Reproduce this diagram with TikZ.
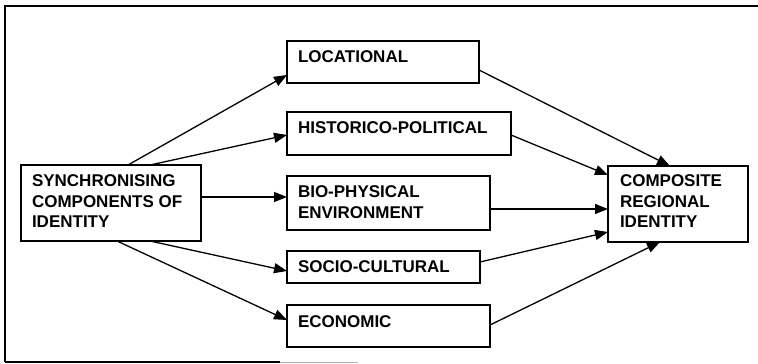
\documentclass[tikz,border=0pt]{standalone}
\usepackage{fontspec}
\setmainfont{Liberation Sans}
\usetikzlibrary{arrows.meta}
\newcommand{\boxtxt}[5]{\parbox[c][#2pt][t]{#1pt}{\raggedright\leftskip=#3pt\relax\vspace*{#4pt}#5}}
\tikzset{
  bx/.style={draw, line width=1.2pt, inner sep=0pt, outer sep=0pt, anchor=north west,
    font=\fontsize{17}{20.5}\selectfont\bfseries},
  arr/.style={line width=1.3pt, -{Triangle[length=13pt,width=10pt]}},
  frame/.style={line width=1.3pt}
}
\begin{document}
\begin{tikzpicture}[x=1pt,y=-1pt]
\useasboundingbox (0,0) rectangle (758,364);
% outer frame
\draw[frame] (5,362) -- (5,6) -- (758,6);
\draw[frame] (5,362) -- (280,362);
\draw[line width=0.8pt, gray!60] (280,362) -- (358,362);
% nodes
\node[bx] (src) at (21,165) {\boxtxt{180}{76}{11}{10}{SYNCHRONISING\\COMPONENTS OF\\IDENTITY}};
\node[bx] (loc) at (287,41) {\boxtxt{192}{42}{11}{10}{LOCATIONAL}};
\node[bx] (his) at (287,112) {\boxtxt{224}{43}{11}{10}{HISTORICO-POLITICAL}};
\node[bx] (bio) at (287,176) {\boxtxt{203}{54}{11}{10}{BIO-PHYSICAL\\ENVIRONMENT}};
\node[bx] (soc) at (287,251) {\boxtxt{193}{32}{11}{10}{SOCIO-CULTURAL}};
\node[bx] (eco) at (287,305) {\boxtxt{203}{42}{11}{11}{ECONOMIC}};
\node[bx] (cmp) at (608,166) {\boxtxt{140}{76}{12}{9}{COMPOSITE\\REGIONAL\\IDENTITY}};
% arrows from source
\draw[arr] ([xshift=107pt]src.north west) -- ([yshift=-34pt]loc.north west);
\draw[arr] ([xshift=129pt]src.north west) -- ([yshift=-23pt]his.north west);
\draw[arr] ([yshift=-32pt]src.north east) -- ([yshift=-21pt]bio.north west);
\draw[arr] ([xshift=129pt]src.south west) -- ([yshift=-20pt]soc.north west);
\draw[arr] ([xshift=96pt]src.south west) -- ([yshift=-15pt]eco.north west);
% arrows to composite
\draw[arr] ([yshift=-29pt]loc.north east) -- ([xshift=62pt]cmp.north west);
\draw[arr] ([yshift=-23pt]his.north east) -- ([yshift=-9pt]cmp.north west);
\draw[arr] ([yshift=-33pt]bio.north east) -- ([yshift=-43pt]cmp.north west);
\draw[arr] ([yshift=-11pt]soc.north east) -- ([yshift=-66pt]cmp.north west);
\draw[arr] ([yshift=-20pt]eco.north east) -- ([xshift=52pt]cmp.south west);
\end{tikzpicture}
\end{document}
